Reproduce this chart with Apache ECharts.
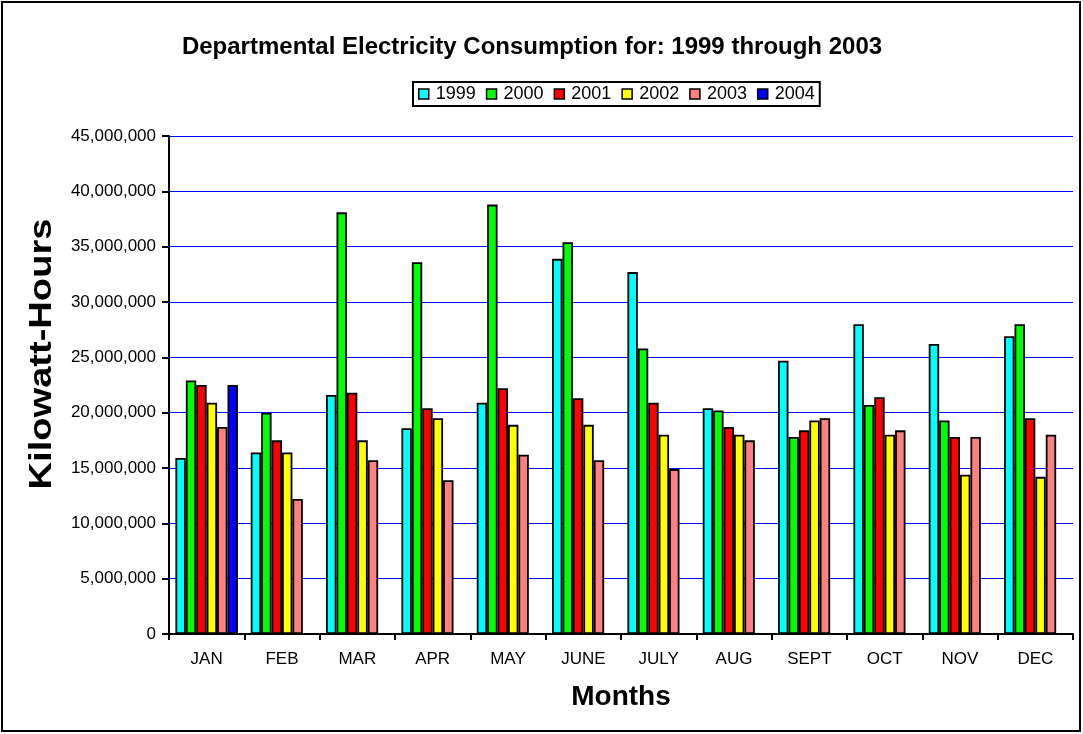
<!DOCTYPE html>
<html><head><meta charset="utf-8">
<script src="https://cdn.jsdelivr.net/npm/echarts@6/dist/echarts.min.js"></script>
<style>html,body{margin:0;padding:0;background:#fff}#c{width:1083px;height:734px}</style>
</head><body><div id="c"></div>
<script>
const months = ['JAN','FEB','MAR','APR','MAY','JUNE','JULY','AUG','SEPT','OCT','NOV','DEC'];
const years = ['1999','2000','2001','2002','2003','2004'];
const y1999 = [15900000,16400000,21600000,18600000,20900000,33900000,32700000,20400000,24700000,28000000,26200000,26900000];
const y2000 = [22900000,20000000,38100000,33600000,38800000,35400000,25800000,20200000,17800000,20700000,19300000,28000000];
const y2001 = [22500000,17500000,21800000,20400000,22200000,21300000,20900000,18700000,18400000,21400000,17800000,19500000];
const y2002 = [20900000,16400000,17500000,19500000,18900000,18900000,18000000,18000000,19300000,18000000,14400000,14200000];
const y2003 = [18700000,12200000,15700000,13900000,16200000,15700000,14900000,17500000,19500000,18400000,17800000,18000000];
const y2004 = [22500000,null,null,null,null,null,null,null,null,null,null,null];
const seriesData = [y1999,y2000,y2001,y2002,y2003,y2004];
const colors = ['#00FFFF','#00FF00','#FF0000','#FFFF00','#FF8080','#0000FF'];
const F = '"Liberation Sans", Arial, sans-serif';

const chart = echarts.init(document.getElementById('c'), null, {renderer:'canvas'});
chart.setOption({
  animation:false,
  backgroundColor:'#fff',
  title:{text:'Departmental Electricity Consumption for: 1999 through 2003',left:527,top:30,textAlign:'center',
    textStyle:{fontFamily:F,fontWeight:'bold',fontSize:24,color:'#000'}},
  legend:{data:years,top:82,left:413,itemWidth:10,itemHeight:10,itemGap:10,padding:[3,5,3,5],
    borderColor:'#000',borderWidth:2,icon:'rect',
    itemStyle:{borderColor:'#000',borderWidth:1.5},
    textStyle:{fontFamily:F,fontSize:18,color:'#000',padding:[3,0,0,2]}},
  grid:{left:169,right:10,top:136,bottom:100,containLabel:false},
  xAxis:{type:'category',data:months,name:'Months',nameLocation:'middle',nameGap:49,
    nameTextStyle:{fontFamily:F,fontWeight:'bold',fontSize:28,color:'#000'},
    axisLine:{lineStyle:{color:'#000',width:2}},
    axisTick:{show:true,alignWithLabel:false,length:6,lineStyle:{color:'#000',width:2}},
    axisLabel:{fontFamily:F,fontSize:17,color:'#000',margin:17}},
  yAxis:{type:'value',min:0,max:45000000,interval:5000000,
    axisLine:{show:true,lineStyle:{color:'#000',width:2}},
    axisTick:{show:true,length:7,lineStyle:{color:'#000',width:2}},
    splitLine:{lineStyle:{color:'#0000FF',width:1}},
    axisLabel:{fontFamily:F,fontSize:17,color:'#000',margin:13,formatter:v=>v.toLocaleString('en-US')}},
  series:seriesData.map((d,i)=>({name:years[i],type:'bar',data:d,barGap:'0%',barCategoryGap:'17%',
    itemStyle:{color:colors[i],borderColor:'#000',borderWidth:1.8}})),
  graphic:[
    {type:'rect',shape:{x:2,y:2,width:1078,height:729},style:{fill:null,stroke:'#000',lineWidth:2},silent:true},
    {type:'text',x:42,y:354,rotation:Math.PI/2,scaleX:1.19,
      style:{text:'Kilowatt-Hours',font:'bold 32px "Liberation Sans", Arial, sans-serif',fill:'#000',
        textAlign:'center',textVerticalAlign:'middle'}}
  ]
});
</script></body></html>
